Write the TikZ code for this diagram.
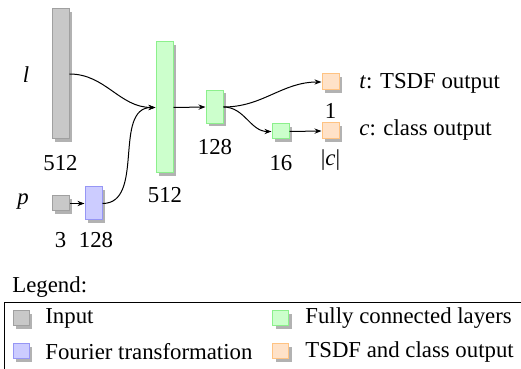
\documentclass[tikz,border=0pt]{standalone}
\usepackage{fontspec}
\setmainfont{Liberation Serif}
\usetikzlibrary{shadows,arrows.meta}
\definecolor{ingray}{RGB}{200,200,200}
\definecolor{ingrayd}{RGB}{160,160,160}
\definecolor{fourier}{RGB}{204,204,255}
\definecolor{fourierd}{RGB}{150,150,245}
\definecolor{fcgreen}{RGB}{204,255,204}
\definecolor{fcgreend}{RGB}{140,240,140}
\definecolor{outor}{RGB}{255,226,200}
\definecolor{outord}{RGB}{255,195,130}
\tikzset{
  layer/.style={draw, rectangle, inner sep=0pt, line width=0.5pt, minimum width=8.5pt,
    drop shadow={shadow xshift=1.5pt, shadow yshift=-1.5pt, fill=black, opacity=0.3}},
  inlayer/.style={layer, fill=ingray, draw=ingrayd},
  fourlayer/.style={layer, fill=fourier, draw=fourierd},
  fclayer/.style={layer, fill=fcgreen, draw=fcgreend},
  outlayer/.style={layer, fill=outor, draw=outord},
  conn/.style={line width=0.5pt, -{Stealth[length=3.5pt,width=2.6pt]}},
  lbl/.style={inner sep=0pt, font=\fontsize{11.4pt}{13.6pt}\selectfont},
}
\begin{document}
\begin{tikzpicture}[x=0.5pt,y=-0.5pt]
\useasboundingbox (0,0) rectangle (521,369);
\clip (0,0) rectangle (521,369);
% layers
\node[inlayer, minimum height=65pt] (l) at (60.5,74) {};
\node[inlayer, minimum height=7.5pt] (p) at (60.5,203.5) {};
\node[fourlayer, minimum height=16.5pt] (ft) at (93.5,203.5) {};
\node[fclayer, minimum height=65.5pt] (fc1) at (164.5,107.5) {};
\node[fclayer, minimum height=16.5pt] (fc2) at (214.5,107) {};
\node[fclayer, minimum height=7.5pt] (fc3) at (280.5,131.5) {};
\node[outlayer, minimum height=8pt] (ot) at (330.5,82) {};
\node[outlayer, minimum height=8pt] (oc) at (330.5,131) {};
% labels
\node[lbl] (ll) at (26,75) {\textit{l}};
\node[lbl] (pl) at (23,202) {\textit{p}};
\node[lbl] (l512) at (60.5,163) {512};
\node[lbl] (p3) at (60.5,240) {3};
\node[lbl] (ft128) at (96,240) {128};
\node[lbl] (fc1n) at (165,195) {512};
\node[lbl] (fc2n) at (215,147) {128};
\node[lbl] (fc3n) at (281,163) {16};
\node[lbl] (otn) at (330.5,111) {1};
\node[lbl] (ocn) at (330.5,160) {|\textit{c}|};
\node[lbl, anchor=west] (ott) at (359,83) {\textit{t}: TSDF output};
\node[lbl, anchor=west] (oct) at (359,130) {\textit{c}: class output};
% connectors
\draw[conn] (l.east) to[out=0,in=180] (fc1.west);
\draw[conn] (ft.east) to[out=0,in=180] (fc1.west);
\draw[conn] (p.east) -- (ft.west);
\draw[conn] (fc1.east) -- (fc2.west);
\draw[conn] (fc2.east) to[out=0,in=180] (ot.west);
\draw[conn] (fc2.east) to[out=0,in=180] (fc3.west);
\draw[conn] (fc3.east) -- (oc.west);
% legend
\node[lbl, anchor=west] (legt) at (12,287) {Legend:};
\draw[line width=0.5pt] (5,303) rectangle (540,390);
\node[inlayer, minimum width=8pt, minimum height=7.5pt] (lg1) at (21,318.5) {};
\node[fourlayer, minimum width=8pt, minimum height=7.5pt] (lg2) at (21,351.5) {};
\node[fclayer, minimum width=8pt, minimum height=7.5pt] (lg3) at (280.5,318.5) {};
\node[outlayer, minimum width=8pt, minimum height=7.5pt] (lg4) at (280.5,351.5) {};
\node[lbl, anchor=west] (lgt1) at (45,318) {Input};
\node[lbl, anchor=west] (lgt2) at (45,352) {Fourier transformation};
\node[lbl, anchor=west] (lgt3) at (305,318) {Fully connected layers};
\node[lbl, anchor=west] (lgt4) at (305,352) {TSDF and class output};
\end{tikzpicture}
\end{document}
